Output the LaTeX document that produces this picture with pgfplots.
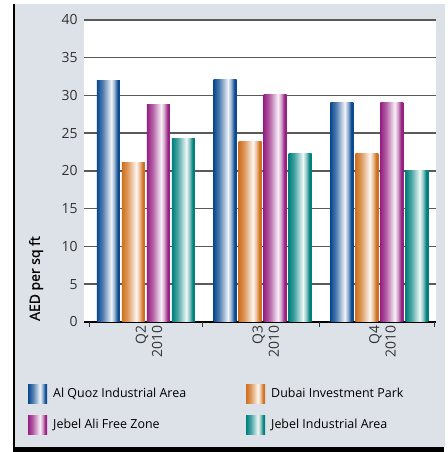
\documentclass[border=0pt]{standalone}
\usepackage{fontspec}
\setmainfont{Open Sans}
\newfontfamily\labfont[FakeBold=1.2]{Open Sans}
\usepackage{pgfplots}
\usepackage{pgfplotstable}
\pgfplotsset{compat=1.18}
\definecolor{bgc}{HTML}{DDE1E8}
\definecolor{cA}{HTML}{0B4A91}
\definecolor{cB}{HTML}{D0701E}
\definecolor{cC}{HTML}{962182}
\definecolor{cD}{HTML}{00807C}
\definecolor{gridc}{HTML}{5A5A5A}
\definecolor{tickc}{HTML}{333333}
\newcommand\mkshade[2]{\pgfdeclarehorizontalshading{#1}{100bp}{color(0bp)=(#2); color(25bp)=(#2); color(37bp)=(#2!72!white); color(49bp)=(#2!30!white); color(56bp)=(#2!6!white); color(63bp)=(#2!45!white); color(70bp)=(#2); color(100bp)=(#2)}}
\mkshade{shA}{cA}
\mkshade{shB}{cB}
\mkshade{shC}{cC}
\mkshade{shD}{cD}
% Al Quoz Industrial Area
\pgfplotstableread{
x v
0 32.0
1 32.1
2 29.1
}\tabA
% Dubai Investment Park
\pgfplotstableread{
x v
0 21.1
1 23.9
2 22.3
}\tabB
% Jebel Ali Free Zone
\pgfplotstableread{
x v
0 28.8
1 30.1
2 29.1
}\tabC
% Jebel Industrial Area
\pgfplotstableread{
x v
0 24.3
1 22.3
2 20.1
}\tabD
\pgfplotsset{
  rowzero/.style={skip coords between index={1}{3}},
  rowone/.style={skip coords between index={0}{1}, skip coords between index={2}{3}},
  rowtwo/.style={skip coords between index={0}{2}},
}
\newcommand\onebar[4]{%
  \addplot[ybar, bar width=23bp, bar shift=#2, draw=none, shading=#1, #4,
    legend image code/.code={\path (0bp,-9.5bp) rectangle (19bp,9.5bp);}]
    table[x=x,y=v]{#3};}
\begin{document}
\begin{tikzpicture}
\useasboundingbox (0,0) rectangle (448bp,452bp);
\fill[bgc] (14bp,5bp) rectangle (445bp,448bp);
\draw[black, line width=2bp] (14bp,0) -- (14bp,448bp);
\fill[black] (13bp,0) rectangle (444bp,5bp);
\begin{axis}[
  at={(84bp,130bp)}, anchor=south west, scale only axis,
  width=352bp, height=302bp,
  xmin=-0.531, xmax=2.484, ymin=0, ymax=40,
  axis background/.style={fill=white},
  axis x line*=bottom, axis y line*=left,
  y axis line style={draw=none},
  x axis line style={black, line width=1.6bp},
  ytick={0,5,...,40},
  ymajorgrids, grid style={gridc, line width=1.5bp},
  major tick length=0pt,
  xtick={0,1,2},
  xticklabels={{Q2\\2010},{Q3\\2010},{Q4\\2010}},
  extra x ticks={-0.48,0.485,1.485,2.47},
  extra x tick labels={},
  extra x tick style={major tick length=5bp, tick style={black!80, line width=1bp}, tick align=outside, grid=none},
  /pgf/number format/assume math mode=true,
  yticklabel style={font=\fontsize{14}{16}\selectfont, text=tickc, xshift=-3bp},
  xticklabel style={rotate=90, anchor=east, align=right, font=\fontsize{14}{16.5}\selectfont, text=tickc, yshift=-3bp},
  ylabel={AED per sq ft},
  ylabel style={at={(axis description cs:-0.136,0.144)}, anchor=center, font=\labfont\fontsize{14}{16}\selectfont},
  legend columns=2,
  legend cell align=left,
  legend style={at={(axis description cs:-0.159,-0.205)}, anchor=north west, draw=none, fill=none, inner sep=0pt,
    font=\fontsize{12.5}{15}\selectfont, row sep=12bp,
    /tikz/every odd column/.append style={column sep=4bp},
    /tikz/every even column/.append style={column sep=58bp}},
]
\onebar{shA}{-37.5bp}{\tabA}{rowzero}
\onebar{shB}{-12.5bp}{\tabB}{rowzero}
\onebar{shC}{12.5bp}{\tabC}{rowzero}
\onebar{shD}{37.5bp}{\tabD}{rowzero}
\onebar{shA}{-37.5bp}{\tabA}{rowone, forget plot}
\onebar{shB}{-12.5bp}{\tabB}{rowone, forget plot}
\onebar{shC}{12.5bp}{\tabC}{rowone, forget plot}
\onebar{shD}{37.5bp}{\tabD}{rowone, forget plot}
\onebar{shA}{-37.5bp}{\tabA}{rowtwo, forget plot}
\onebar{shB}{-12.5bp}{\tabB}{rowtwo, forget plot}
\onebar{shC}{12.5bp}{\tabC}{rowtwo, forget plot}
\onebar{shD}{37.5bp}{\tabD}{rowtwo, forget plot}
\legend{Al Quoz Industrial Area, Dubai Investment Park, Jebel Ali Free Zone, Jebel Industrial Area}
\end{axis}
\end{tikzpicture}
\end{document}
